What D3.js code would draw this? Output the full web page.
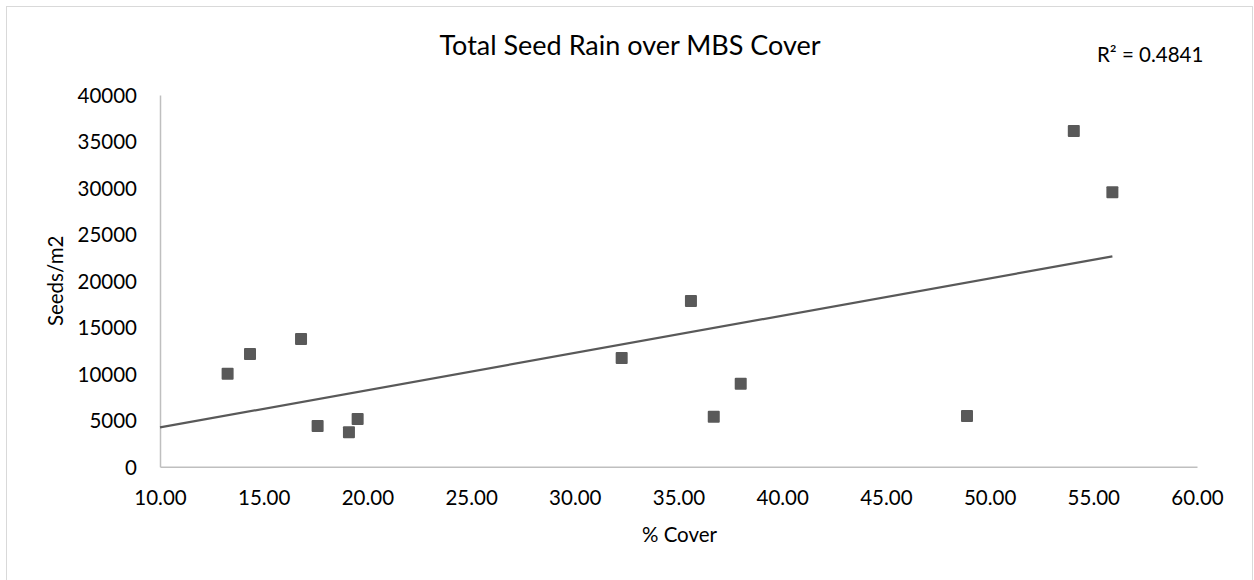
<!DOCTYPE html>
<html>
<head>
<meta charset="utf-8">
<script src="https://cdn.jsdelivr.net/npm/d3@7"></script>
<style>
  body { margin: 0; background: #fff; }
  text { font-family: Lato, "Open Sans", sans-serif; fill: #000; }
</style>
</head>
<body>
<div id="chart"></div>
<script>
// % cover and seeds/m2
const cover = [13.26, 14.34, 16.80, 17.60, 19.11, 19.53, 32.26, 35.60, 36.70, 38.00, 48.91, 54.06, 55.92];
const seeds = [10000, 12130, 13740, 4380, 3700, 5130, 11700, 17830, 5380, 8930, 5450, 36130, 29530];
const xTicks = [10, 15, 20, 25, 30, 35, 40, 45, 50, 55, 60];
const yTicks = [0, 5000, 10000, 15000, 20000, 25000, 30000, 35000, 40000];
const rSquaredLabel = "R² = 0.4841";

const width = 1254,
  height = 580,
  margin = { top: 95, bottom: 113.3, left: 160, right: 57 };

const points = cover.map((c, i) => ({ x: c, y: seeds[i] }));

const svg = d3.select("#chart")
  .append("svg")
  .attr("width", width)
  .attr("height", height);

// chart area border
svg.append("rect")
  .attr("x", 6.5)
  .attr("y", 6.5)
  .attr("width", 1246)
  .attr("height", 600)
  .attr("fill", "#fff")
  .attr("stroke", "#d9d9d9")
  .attr("stroke-width", 1);

const xScale = d3.scaleLinear()
  .domain([10, 60])
  .range([margin.left, width - margin.right]);

const yScale = d3.scaleLinear()
  .domain([0, 40000])
  .range([height - margin.bottom, margin.top]);

const xAxis = d3.axisBottom(xScale)
  .tickValues(xTicks)
  .tickSize(0)
  .tickPadding(24)
  .tickFormat(d3.format(".2f"));

const yAxis = d3.axisLeft(yScale)
  .tickValues(yTicks)
  .tickSize(0)
  .tickPadding(23)
  .tickFormat(d3.format("d"));

const xAxisGroup = svg.append("g")
  .attr("transform", `translate(0, ${height - margin.bottom})`)
  .call(xAxis);

const yAxisGroup = svg.append("g")
  .attr("transform", `translate(${margin.left}, 0)`)
  .call(yAxis);

[xAxisGroup, yAxisGroup].forEach(g => {
  g.select(".domain").attr("stroke", "#bfbfbf").attr("stroke-width", 1.5);
  g.selectAll(".tick text")
    .attr("font-size", 20.5)
    .attr("font-family", "Lato, sans-serif")
    .attr("fill", "#000");
});
yAxisGroup.selectAll(".tick text").attr("dy", "0.36em");
xAxisGroup.selectAll(".tick text").attr("dy", "0.72em");

// linear trendline (least squares)
const n = points.length;
const mx = d3.mean(points, d => d.x);
const my = d3.mean(points, d => d.y);
const slope = d3.sum(points, d => (d.x - mx) * (d.y - my)) / d3.sum(points, d => (d.x - mx) ** 2);
const intercept = my - slope * mx;
const trend = [10, d3.max(cover)].map(x => ({ x: x, y: intercept + slope * x }));

svg.append("path")
  .datum(trend)
  .attr("fill", "none")
  .attr("stroke", "#595959")
  .attr("stroke-width", 2.25)
  .attr("d", d3.line().x(d => xScale(d.x)).y(d => yScale(d.y)));

const size = 12;
svg.selectAll("rect.pt")
  .data(points)
  .join("rect")
  .attr("class", "pt")
  .attr("x", d => xScale(d.x) - size / 2)
  .attr("y", d => yScale(d.y) - size / 2)
  .attr("width", size)
  .attr("height", size)
  .attr("rx", 1)
  .attr("fill", "#595959");

// titles
svg.append("text")
  .attr("x", 630)
  .attr("y", 55)
  .attr("text-anchor", "middle")
  .attr("font-size", 27)
  .text("Total Seed Rain over MBS Cover");

svg.append("text")
  .attr("x", xScale(35) + 1)
  .attr("y", 542)
  .attr("text-anchor", "middle")
  .attr("font-size", 20.5)
  .text("% Cover");

svg.append("text")
  .attr("transform", `translate(63, ${(yScale(0) + yScale(40000)) / 2}) rotate(-90)`)
  .attr("text-anchor", "middle")
  .attr("font-size", 20.5)
  .text("Seeds/m2");

svg.append("text")
  .attr("x", 1097)
  .attr("y", 62)
  .attr("font-size", 20.5)
  .text(rSquaredLabel);
</script>
</body>
</html>
